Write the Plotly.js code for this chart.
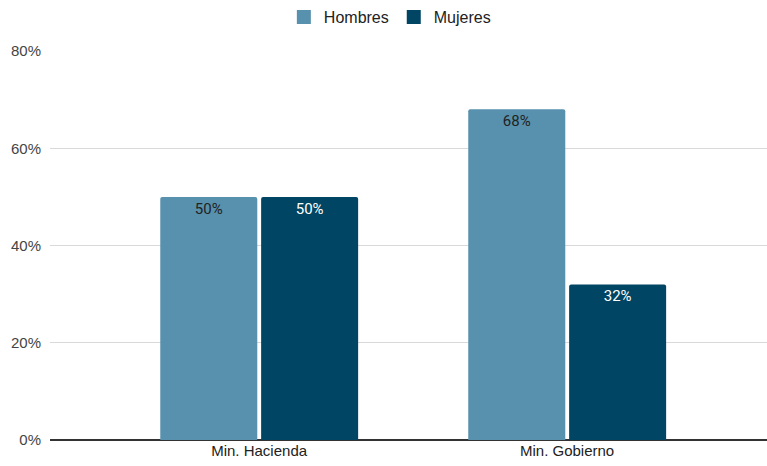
<!DOCTYPE html>
<html><head><meta charset="utf-8">
<script src="https://cdn.plot.ly/plotly-3.0.1.min.js"></script>
<style>html,body{margin:0;padding:0;background:#fff}</style>
</head><body><div id="chart" style="width:767px;height:466px"></div>
<script>
const categories = ["Min. Hacienda", "Min. Gobierno"];
const hombres = [0.50, 0.68];
const mujeres = [0.50, 0.32];
const seriesNames = ["Hombres", "Mujeres"];
const seriesColors = ["#5891ad", "#004563"];
const yTicks = [0, 0.2, 0.4, 0.6, 0.8];
const yTickLabels = ["0%", "20%", "40%", "60%", "80%"];

const fmt = v => Math.round(v * 100) + "%";
const traces = [
  {type: "bar", name: seriesNames[0], x: [0, 1], y: hombres, text: hombres.map(fmt),
   textposition: "inside", insidetextanchor: "end", textangle: 0,
   textfont: {color: "#222222", size: 15, family: "Roboto"}, showlegend: false,
   marker: {color: seriesColors[0]}, width: 0.315, offset: -0.321, hoverinfo: "none"},
  {type: "bar", name: seriesNames[1], x: [0, 1], y: mujeres, text: mujeres.map(fmt),
   textposition: "inside", insidetextanchor: "end", textangle: 0,
   textfont: {color: "#ffffff", size: 15, family: "Roboto"}, showlegend: false,
   marker: {color: seriesColors[1]}, width: 0.315, offset: 0.0065, hoverinfo: "none"},
  {type: "scatter", mode: "markers", name: seriesNames[0], x: [null], y: [null],
   marker: {symbol: "square", size: 14, color: seriesColors[0]}},
  {type: "scatter", mode: "markers", name: seriesNames[1], x: [null], y: [null],
   marker: {symbol: "square", size: 14, color: seriesColors[1]}}
];
const layout = {
  width: 767, height: 466,
  margin: {l: 50, r: 0, t: 51, b: 26},
  paper_bgcolor: "#fff", plot_bgcolor: "#fff",
  font: {family: "Liberation Sans, Arial", color: "#444444", size: 15},
  barmode: "overlay",
  barcornerradius: 2,
  showlegend: true,
  legend: {orientation: "h", x: 0.474, xanchor: "center", y: 1.0, yref: "container", yanchor: "top",
           font: {size: 16, color: "#222222"}, itemsizing: "trace", itemwidth: 30, traceorder: "normal"},
  xaxis: {range: [-0.679, 1.649], tickvals: [0, 1], ticktext: categories, showgrid: false,
          zeroline: false, showline: false, ticks: "", tickfont: {size: 15, color: "#222222"}, fixedrange: true},
  yaxis: {range: [0, 0.8], tickvals: yTicks, ticktext: yTickLabels, showgrid: true, gridcolor: "#d9d9d9",
          zeroline: true, zerolinecolor: "#333333", zerolinewidth: 1.5, showline: false, ticks: "",
          ticklabelstandoff: 8, tickfont: {size: 15, color: "#444444"}, fixedrange: true}
};
Plotly.newPlot("chart", traces, layout, {displayModeBar: false, staticPlot: true});
</script></body></html>
